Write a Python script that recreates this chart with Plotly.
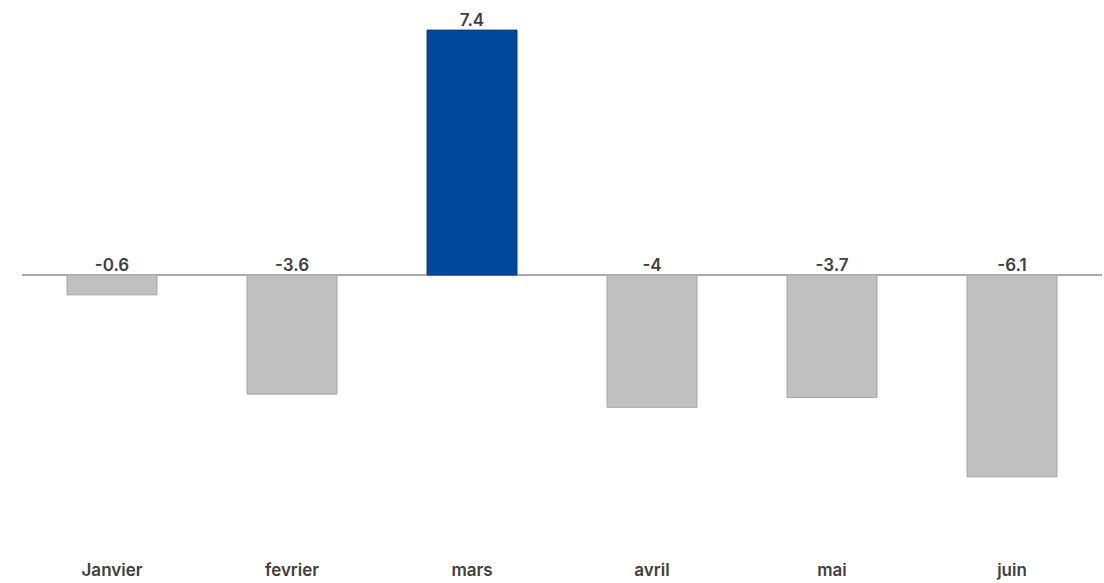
import plotly.graph_objects as go

categories = ["Janvier", "fevrier", "mars", "avril", "mai", "juin"]
values = [-0.6, -3.6, 7.4, -4, -3.7, -6.1]
labels = ["-0.6", "-3.6", "7.4", "-4", "-3.7", "-6.1"]

GRAY = "#c0c0c0"
BLUE = "#00489c"
colors = [BLUE if v > 0 else GRAY for v in values]
lines = ["#0a3a7a" if v > 0 else "#a8a8a8" for v in values]

FONT = "Inter"

fig = go.Figure()
fig.add_trace(go.Bar(
    x=categories, y=values,
    marker=dict(color=colors, line=dict(color=lines, width=1)),
    hoverinfo="skip",
))
fig.add_trace(go.Scatter(
    x=categories, y=[max(v, 0) for v in values],
    mode="text", text=labels, textposition="top center",
    textfont=dict(family=FONT, size=17, color="#404040", weight=600),
    hoverinfo="skip",
))

fig.update_layout(
    width=1104, height=583,
    margin=dict(l=22, r=2, t=0, b=33),
    paper_bgcolor="white", plot_bgcolor="white",
    showlegend=False, bargap=0.5,
    xaxis=dict(showgrid=False, showline=False, ticks="", ticklabelstandoff=8,
               tickfont=dict(family=FONT, size=17, color="#404040", weight=600)),
    yaxis=dict(range=[-8.31, 8.31], showgrid=False, showticklabels=False,
               zeroline=True, zerolinecolor="#aaaaaa", zerolinewidth=2),
)
fig.write_html("out.html")
